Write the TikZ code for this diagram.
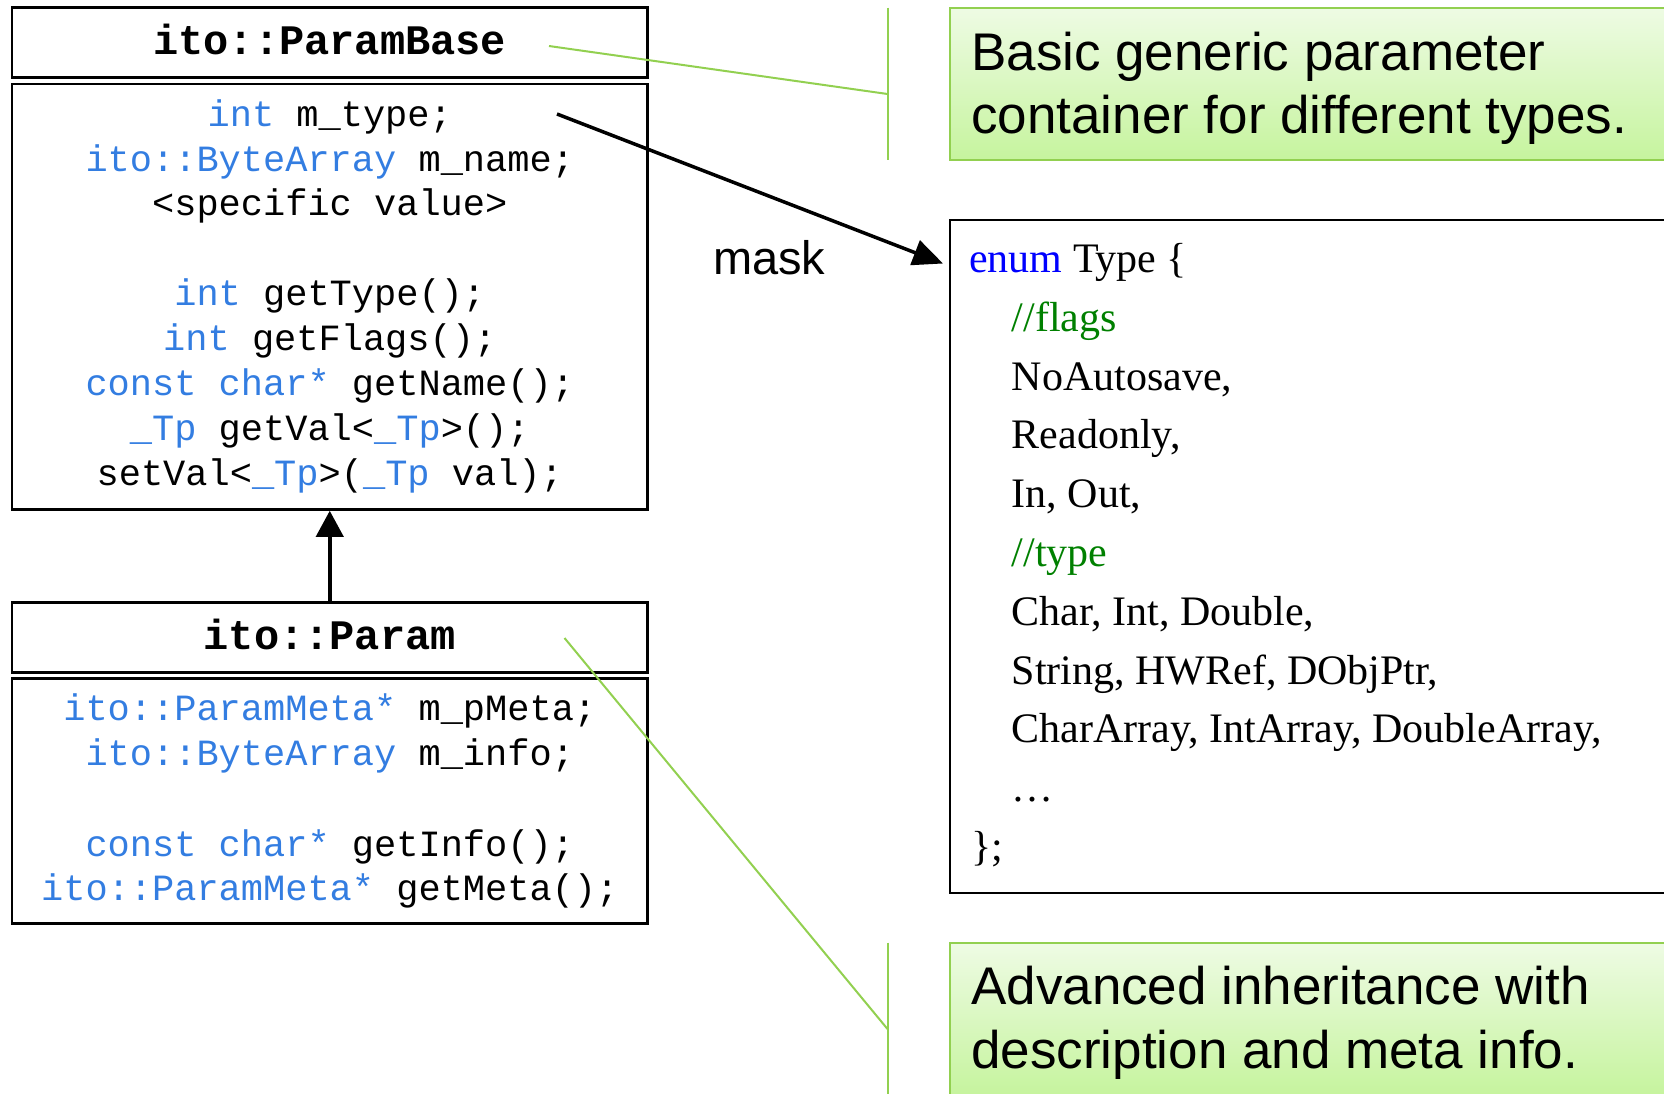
\documentclass[tikz,border=0pt]{standalone}
\usepackage{fontspec}
\setmainfont{Liberation Serif}
\newfontfamily\sansf{Liberation Sans}
\newfontfamily\monof{Liberation Mono}
\usetikzlibrary{arrows.meta}
\definecolor{codeblue}{RGB}{51,125,225}
\definecolor{kwblue}{RGB}{0,0,255}
\definecolor{cmtgreen}{RGB}{0,128,0}
\definecolor{callborder}{RGB}{146,208,80}
\definecolor{calltop}{RGB}{238,251,228}
\definecolor{callbot}{RGB}{198,244,158}
\newcommand{\cb}[1]{\textcolor{codeblue}{#1}}
\begin{document}
\begin{tikzpicture}[x=1pt,y=-1pt,
  umlbox/.style={draw=black, line width=2.5pt, inner sep=0pt, minimum width=635.5pt},
  code/.style={inner sep=0pt, anchor=base, font=\monof\fontsize{37}{44}\selectfont},
  hdr/.style={inner sep=0pt, anchor=base, font=\monof\bfseries\fontsize{42}{50}\selectfont},
  enumtxt/.style={inner sep=0pt, anchor=base west, font=\fontsize{42}{50}\selectfont},
  calltxt/.style={inner sep=0pt, anchor=base west, font=\sansf\fontsize{53}{63}\selectfont},
  masktxt/.style={inner sep=0pt, anchor=base west, font=\sansf\fontsize{47}{56}\selectfont},
  callout/.style={draw=callborder, line width=2pt, top color=calltop, bottom color=callbot, inner sep=0pt},
  enumbox/.style={draw=black, line width=2pt, inner sep=0pt},
  note/.style={draw=callborder, line width=2pt},
  inherit/.style={line width=4pt, -{Triangle[length=26pt,width=27pt]}},
  assoc/.style={line width=3.5pt, -{Triangle[length=30pt,width=26pt]}}
]
\useasboundingbox (0,0) rectangle (1664,1093);
\clip (0,0) rectangle (1664,1093);

% ParamBase
\node[umlbox, minimum height=70pt] (bHead) at (329.75,42.5) {};
\node[umlbox, minimum height=425.5pt] (bBody) at (329.75,296.75) {};
\node[hdr] (bTitle) at (329.75,54.3) {ito::ParamBase};
\node[code] (b1) at (329.75,126.7) {\cb{int} m\_type;};
\node[code] (b2) at (329.75,171.2) {\cb{ito::ByteArray} m\_name;};
\node[code] (b3) at (329.75,215.7) {<specific value>};
\node[code] (b4) at (329.75,305.7) {\cb{int} getType();};
\node[code] (b5) at (329.75,350.5) {\cb{int} getFlags();};
\node[code] (b6) at (329.75,395.5) {\cb{const char*} getName();};
\node[code] (b7) at (329.75,440.5) {\cb{\_Tp} getVal<\cb{\_Tp}>();};
\node[code] (b8) at (329.75,485.2) {setVal<\cb{\_Tp}>(\cb{\_Tp} val);};

% Param
\node[umlbox, minimum height=70pt] (pHead) at (329.75,637.5) {};
\node[umlbox, minimum height=245pt] (pBody) at (329.75,800.8) {};
\node[hdr] (pTitle) at (329.75,649.3) {ito::Param};
\node[code] (p1) at (329.75,720) {\cb{ito::ParamMeta*} m\_pMeta;};
\node[code] (p2) at (329.75,765) {\cb{ito::ByteArray} m\_info;};
\node[code] (p3) at (329.75,856.7) {\cb{const char*} getInfo();};
\node[code] (p4) at (329.75,900.5) {\cb{ito::ParamMeta*} getMeta();};

\draw[inherit] (pHead.north) -- (bBody.south);

% callouts
\node[callout, minimum width=750pt, minimum height=152.5pt] (call1) at (1325,83.75) {};
\node[calltxt] (c1a) at (971,70.5) {Basic generic parameter};
\node[calltxt] (c1b) at (971,133) {container for different types.};
\node[callout, minimum width=750pt, minimum height=152.5pt] (call2) at (1325,1018.75) {};
\node[calltxt] (c2a) at (971,1004) {Advanced inheritance with};
\node[calltxt] (c2b) at (971,1068) {description and meta info.};

\coordinate (g1s) at (549,46);
\coordinate (g1e) at (887.5,94);
\coordinate (g1t) at (887.5,7.5);
\coordinate (g1b) at (887.5,159.5);
\draw[note] (g1s) -- (g1e);
\draw[note] (g1t) -- (g1b);
\coordinate (g2s) at (564.5,638);
\coordinate (g2e) at (887.5,1029);
\coordinate (g2t) at (887.5,942.5);
\coordinate (g2b) at (887.5,1100);
\draw[note] (g2s) -- (g2e);
\draw[note] (g2t) -- (g2b);

% enum box
\node[enumbox, minimum width=730.5pt, minimum height=673pt] (enumb) at (1314.75,556) {};
\node[enumtxt] (e1) at (969,272.5) {\textcolor{kwblue}{enum} Type \{};
\node[enumtxt] (e2) at (1011.5,331.3) {\textcolor{cmtgreen}{//flags}};
\node[enumtxt] (e3) at (1011.5,390.1) {NoAutosave,};
\node[enumtxt] (e4) at (1011.5,448.9) {Readonly,};
\node[enumtxt] (e5) at (1011.5,507.7) {In, Out,};
\node[enumtxt] (e6) at (1011.5,566.5) {\textcolor{cmtgreen}{//type}};
\node[enumtxt] (e7) at (1011.5,625.3) {Char, Int, Double,};
\node[enumtxt] (e8) at (1011.5,684.1) {String, HWRef, DObjPtr,};
\node[enumtxt] (e9) at (1011.5,742.9) {CharArray, IntArray, DoubleArray,};
\node[enumtxt] (e10) at (1011.5,801.7) {…};
\node[enumtxt] (e11) at (971,860.5) {\};};

% mask association
\node[masktxt] (mask) at (713,274) {mask};
\coordinate (ms) at (557,114);
\coordinate (me) at (943,263.5);
\draw[assoc] (ms) -- (me);
\end{tikzpicture}
\end{document}
